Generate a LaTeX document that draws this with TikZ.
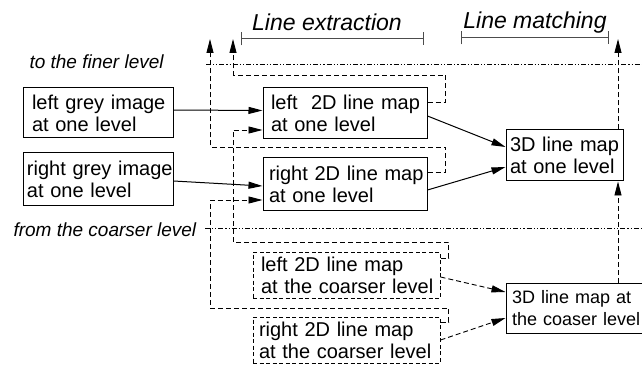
\documentclass[tikz,border=0pt]{standalone}
\usepackage{fontspec}
\setmainfont{Liberation Sans}
\usetikzlibrary{arrows.meta}
\tikzset{
  every picture/.style={x=1pt,y=-1pt},
  txt/.style={font=\fontsize{20}{22}\selectfont},
  box/.style={draw, line width=1pt, align=left, inner ysep=0pt, txt},
  dbox/.style={box, dash pattern=on 4pt off 2.5pt},
  solidarr/.style={line width=1pt, -{Triangle[length=14pt,width=7pt]}},
  dsh/.style={line width=0.9pt, dash pattern=on 5pt off 3pt},
  dsharr/.style={dsh, -{Triangle[length=14pt,width=7pt]}},
  dashdotline/.style={line width=1pt, dash pattern=on 5pt off 2pt on 1.2pt off 2pt on 1.2pt off 2pt},
  bracket/.style={line width=1pt, draw=black!70, {Bar[width=13pt]}-{Bar[width=13pt]}},
  title/.style={font=\fontsize{23}{26}\selectfont\itshape, anchor=base},
  lab/.style={font=\fontsize{19}{22}\selectfont\itshape, anchor=base west}
}
\begin{document}
\begin{tikzpicture}
\useasboundingbox (0,0) rectangle (642,366);
% titles and brackets
\coordinate (exA) at (241,39); \coordinate (exB) at (424,39);
\coordinate (maA) at (461,38); \coordinate (maB) at (609,38);
\draw[bracket] (exA) -- (exB);
\draw[bracket] (maA) -- (maB);
\node[title] (tex) at (327,31) {Line extraction};
\node[title] (tma) at (535,29) {Line matching};
\node[lab] (tfin) at (26,69) {to the finer level};
\node[lab] (tcoa) at (10,236) {from the coarser level};
% level separators
\coordinate (s1a) at (206,65); \coordinate (s1b) at (642,65);
\coordinate (s2a) at (205,228); \coordinate (s2b) at (642,228);
\draw[dashdotline] (s1a) -- (s1b);
\draw[dashdotline] (s2a) -- (s2b);
% boxes
\node[box, minimum height=50pt, text width=132pt, inner xsep=9pt] (lg) at (98,113) {\mbox{left grey image}\\\mbox{at one level}};
\node[box, minimum height=52pt, text width=142pt, inner xsep=4pt] (rg) at (98,179) {\mbox{right grey image}\\\mbox{at one level}};
\node[box, minimum height=51pt, text width=148pt, inner xsep=8pt] (l2) at (345,113.5) {\mbox{left\ \ 2D line map}\\\mbox{at one level}};
\node[box, minimum height=52pt, text width=152pt, inner xsep=6pt] (r2) at (345,184) {\mbox{right 2D line map}\\\mbox{at one level}};
\node[box, minimum height=51pt, text width=109pt, inner xsep=4pt] (d3) at (564.5,155.5) {\mbox{3D line map}\\\mbox{at one level}};
\node[dbox, minimum height=46pt, text width=171pt, inner xsep=8pt] (lc) at (346.5,275) {\mbox{left 2D line map}\\\mbox{at the coarser level}};
\node[dbox, minimum height=46pt, text width=175pt, inner xsep=6pt] (rc) at (346.5,340) {\mbox{right 2D line map}\\\mbox{at the coarser level}};
\node[box, font=\fontsize{18}{22}\selectfont, minimum height=50pt, text width=143pt, inner xsep=6pt] (dc) at (583.5,308) {\mbox{3D line map at}\\\mbox{the coaser level}};
% solid arrows
\draw[solidarr] ([yshift=3pt]lg.east) -- ([yshift=3pt]l2.west);
\draw[solidarr] ([yshift=-2pt]rg.east) -- ([yshift=-2pt]r2.west);
\draw[solidarr] ([yshift=-2.5pt]l2.east) -- ([yshift=8.5pt]d3.west);
\draw[solidarr] ([yshift=-6pt]r2.east) -- ([yshift=-11.5pt]d3.west);
% dashed arrows coarse -> 3D coarse
\draw[dsharr] ([yshift=-2pt]lc.east) -- ([yshift=16pt]dc.west);
\draw[dsharr] (rc.east) -- ([yshift=-10pt]dc.west);
% feedback loops
\coordinate (upA) at (233,39);
\coordinate (upB) at (210,39);
\coordinate (upC) at (618,39);
\coordinate (rx) at (618,0);
\draw[dsharr] ([yshift=11.5pt]l2.east) -- ++(18,0) |- (233,75) -- (upA);
\draw[dsharr] ([yshift=12pt]r2.east) -- ++(18,0) |- (210,147) -- (upB);
\draw[dsharr] ([yshift=17pt]lc.east) -- ++(8,0) |- (233,242) |- ([yshift=-16.5pt]l2.west);
\draw[dsharr] ([yshift=18pt]rc.east) -- ++(8,0) |- (210,308) |- ([yshift=-16pt]r2.west);
\draw[dsharr] (rx |- dc.north) -- (rx |- d3.south);
\draw[dsharr] (rx |- d3.north) -- (upC);
\end{tikzpicture}
\end{document}
